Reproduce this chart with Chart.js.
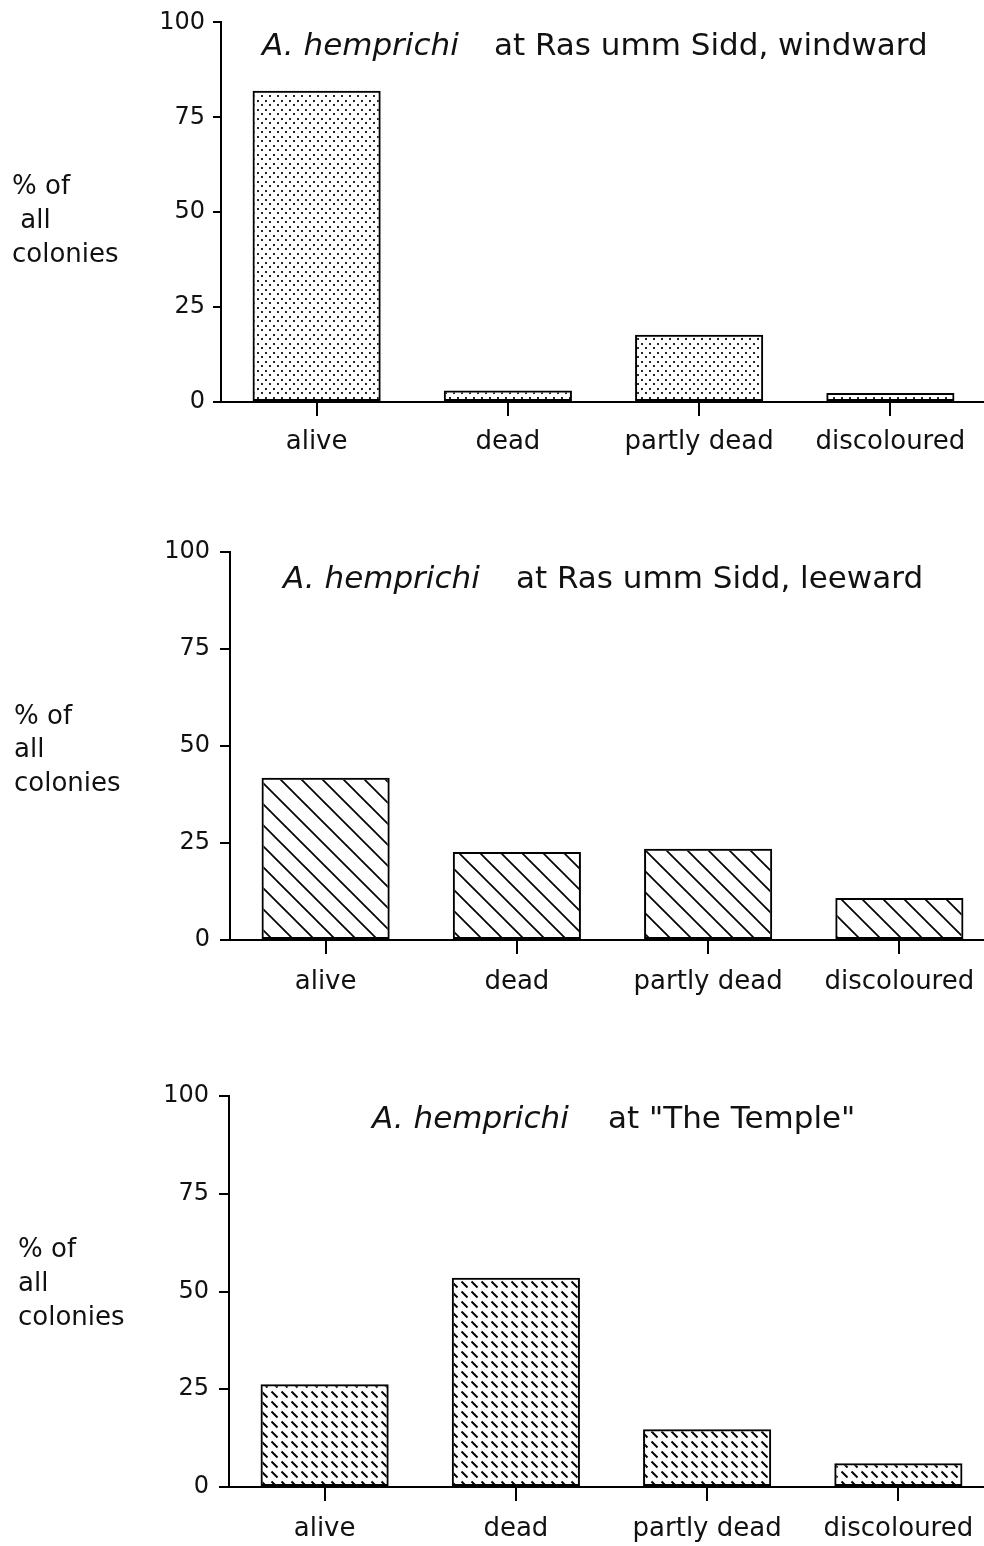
<!DOCTYPE html>
<html>
<head>
<meta charset="utf-8">
<script src="https://cdn.jsdelivr.net/npm/chart.js@4.4.0/dist/chart.umd.min.js"></script>
<style>
  html, body { margin: 0; padding: 0; background: #fff; }
  #page { position: relative; width: 984px; height: 1546px; overflow: hidden; }
  .wrap { position: absolute; left: 0; }
  canvas { display: block; }
</style>
</head>
<body>
<div id="page">
  <div class="wrap" style="top:0"><canvas id="c1" width="986" height="500"></canvas></div>
  <div class="wrap" style="top:520px"><canvas id="c2" width="995" height="500"></canvas></div>
  <div class="wrap" style="top:1060px"><canvas id="c3" width="994" height="486"></canvas></div>
</div>
<script>
const categories = ["alive", "dead", "partly dead", "discoloured"];
const windwardValues = [82, 3, 17.7, 2.4];
const leewardValues = [41.8, 22.7, 23.5, 10.8];
const templeValues = [26.3, 53.5, 14.8, 6.1];
const yTicks = [0, 25, 50, 75, 100];
const species = "A. hemprichi";
const sites = ["at Ras umm Sidd, windward", "at Ras umm Sidd, leeward", "at \"The Temple\""];
const yTitle = ["% of", " all", "colonies"];
const yTitle2 = ["% of", "all", "colonies"];

const FONT = "DejaVu Sans";
const INK = "#111";

// hatch fills, one per panel
function makePattern(kind) {
    const tile = document.createElement("canvas");
    const g = tile.getContext("2d");
    if (kind === "dots") {
        tile.width = 8; tile.height = 9;
        g.fillStyle = "rgba(0,0,0,0.85)";
        g.fillRect(1, 1, 2, 2);
        g.fillRect(5, 5, 2, 2);
    } else if (kind === "lines") {
        tile.width = 21; tile.height = 21;
        g.strokeStyle = "#000";
        g.lineWidth = 1.7;
        g.beginPath();
        g.moveTo(-2, -2); g.lineTo(23, 23);
        g.moveTo(-2, 19); g.lineTo(2, 23);
        g.moveTo(19, -2); g.lineTo(23, 2);
        g.stroke();
    } else {
        tile.width = 10; tile.height = 10;
        g.strokeStyle = "#000";
        g.lineWidth = 1.9;
        g.beginPath();
        g.moveTo(1.5, 1.5); g.lineTo(7.5, 7.5);
        g.stroke();
    }
    return g.createPattern(tile, "repeat");
}

const extraText = {
    id: "extraText",
    afterDraw(chart, args, o) {
        const ctx = chart.ctx;
        ctx.save();
        ctx.fillStyle = INK;
        ctx.textBaseline = "middle";
        ctx.textAlign = "left";
        ctx.font = "italic 31px '" + FONT + "'";
        ctx.fillText(species, o.speciesX, o.titleY);
        ctx.font = "31px '" + FONT + "'";
        ctx.fillText(o.site, o.siteX, o.titleY);
        ctx.font = "26px '" + FONT + "'";
        o.yTitle.forEach((line, i) => {
            ctx.fillText(line, o.yTitleX, o.yTitleY + i * o.yTitleGap);
        });
        ctx.restore();
    }
};

function makeChart(id, values, pattern, cfg) {
    const canvas = document.getElementById(id);
    return new Chart(canvas.getContext("2d"), {
        type: "bar",
        data: {
            labels: categories,
            datasets: [{
                data: values,
                backgroundColor: pattern,
                borderColor: "#000",
                borderWidth: 2,
                borderSkipped: false,
                barPercentage: 0.67,
                categoryPercentage: 1,
            }],
        },
        options: {
            responsive: false,
            animation: false,
            layout: { padding: { top: cfg.top, left: 0, right: 0, bottom: 0 } },
            scales: {
                x: {
                    afterFit: (s) => { s.height = canvas.height - cfg.bottom; },
                    grid: {
                        offset: false,
                        drawOnChartArea: false,
                        color: "#000",
                        lineWidth: 2,
                        tickLength: 14,
                    },
                    border: { color: "#000", width: 2 },
                    ticks: {
                        color: INK,
                        padding: cfg.xPad,
                        font: { family: FONT, size: 26 },
                        maxRotation: 0,
                    },
                },
                y: {
                    min: 0,
                    max: 100,
                    afterFit: (s) => { s.width = cfg.axisX; },
                    afterBuildTicks: (s) => { s.ticks = yTicks.map((v) => ({ value: v })); },
                    grid: {
                        drawOnChartArea: false,
                        color: "#000",
                        lineWidth: 2,
                        tickLength: cfg.tickLen,
                    },
                    border: { color: "#000", width: 2 },
                    ticks: {
                        color: INK,
                        padding: cfg.yPad,
                        font: { family: FONT, size: 24 },
                    },
                },
            },
            plugins: {
                legend: { display: false },
                tooltip: { enabled: false },
                extraText: cfg.text,
            },
        },
        plugins: [extraText],
    });
}

makeChart("c1", windwardValues, makePattern("dots"), {
    top: 17, bottom: 402, axisX: 221, tickLen: 8, yPad: 8, xPad: 11,
    text: { speciesX: 262, siteX: 494, titleY: 47, site: sites[0],
            yTitle: yTitle, yTitleX: 12, yTitleY: 187, yTitleGap: 34 },
});
makeChart("c2", leewardValues, makePattern("lines"), {
    top: 32, bottom: 420, axisX: 230, tickLen: 10, yPad: 10, xPad: 13,
    text: { speciesX: 283, siteX: 516, titleY: 60, site: sites[1],
            yTitle: yTitle2, yTitleX: 14, yTitleY: 197, yTitleGap: 33.5 },
});
makeChart("c3", templeValues, makePattern("dashes"), {
    top: 36, bottom: 427, axisX: 229, tickLen: 10, yPad: 10, xPad: 13,
    text: { speciesX: 372, siteX: 608, titleY: 60, site: sites[2],
            yTitle: yTitle2, yTitleX: 18, yTitleY: 190, yTitleGap: 34 },
});
</script>
</body>
</html>
